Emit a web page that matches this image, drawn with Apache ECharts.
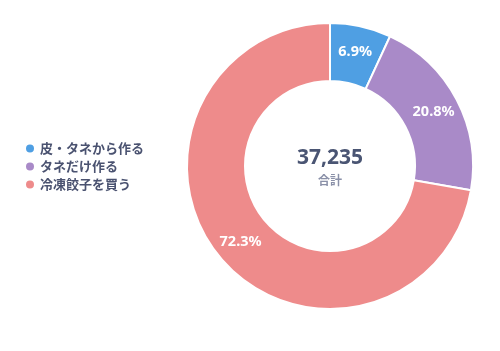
<!DOCTYPE html>
<html>
<head>
<meta charset="utf-8">
<script src="https://cdn.jsdelivr.net/npm/echarts@6/dist/echarts.min.js"></script>
<style>
  html, body { margin: 0; padding: 0; background: #fff; }
  #main { width: 500px; height: 351px; }
</style>
</head>
<body>
<div id="main"></div>
<script>
// 回答データ
var categories = ['皮・タネから作る', 'タネだけ作る', '冷凍餃子を買う'];
var values = [2569, 7745, 26921];
var colors = ['#4f9fe3', '#a98ac8', '#ee8b8b'];
var totalLabel = '合計';

var total = values.reduce(function (a, b) { return a + b; }, 0);

var chart = echarts.init(document.getElementById('main'));
chart.setOption({
  animation: false,
  color: colors,
  legend: {
    orient: 'vertical',
    left: 19,
    top: 137,
    icon: 'circle',
    itemWidth: 10,
    itemHeight: 10,
    itemGap: 5,
    textStyle: {
      color: '#4a5270',
      fontSize: 13,
      fontWeight: 'bold',
      fontFamily: 'Noto Sans CJK JP'
    },
    data: categories
  },
  graphic: [{
    type: 'text',
    x: 330,
    y: 158,
    style: {
      text: total.toLocaleString('en-US'),
      align: 'center',
      verticalAlign: 'middle',
      fill: '#4a5573',
      fontSize: 21,
      fontWeight: 'bold',
      fontFamily: 'Noto Sans'
    }
  }, {
    type: 'text',
    x: 330,
    y: 180,
    style: {
      text: totalLabel,
      align: 'center',
      verticalAlign: 'middle',
      fill: '#8a90a8',
      fontSize: 12,
      fontWeight: 'bold',
      fontFamily: 'Noto Sans CJK JP'
    }
  }],
  series: [{
    type: 'pie',
    center: [330, 166],
    radius: [85, 143],
    startAngle: 90,
    clockwise: true,
    itemStyle: { borderColor: '#fff', borderWidth: 2 },
    label: {
      position: 'inside',
      color: '#fff',
      fontSize: 14.5,
      fontWeight: 'bold',
      fontFamily: 'Noto Sans',
      formatter: function (p) { return (p.value / total * 100).toFixed(1) + '%'; }
    },
    labelLine: { show: false },
    emphasis: { disabled: true },
    data: categories.map(function (c, i) { return { name: c, value: values[i] }; })
  }]
});
</script>
</body>
</html>
